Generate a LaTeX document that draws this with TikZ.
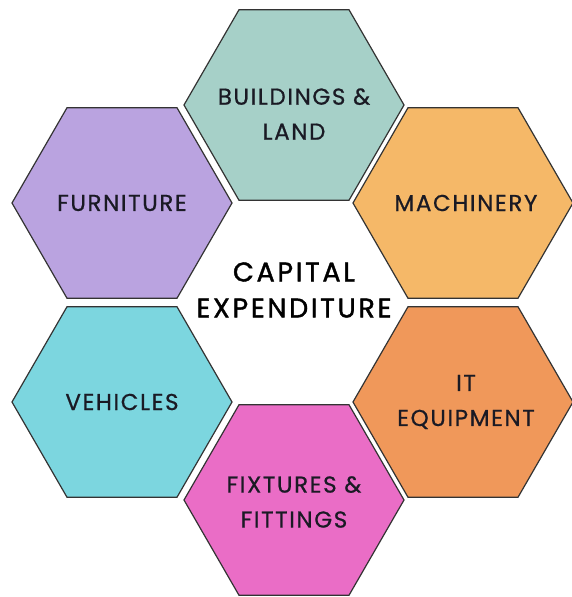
\documentclass[tikz,border=0pt]{standalone}
\usepackage{fontspec}
\setmainfont{Poppins}
\newfontfamily\lblfont[LetterSpace=7,FakeBold=0.7]{Poppins}
\newfontfamily\capfont[LetterSpace=10,FakeBold=1.5]{Poppins}
\usetikzlibrary{shapes.geometric}
\definecolor{cbld}{HTML}{A6D0C8}
\definecolor{cfur}{HTML}{BAA3E0}
\definecolor{cmach}{HTML}{F5B868}
\definecolor{cveh}{HTML}{7CD6DF}
\definecolor{cit}{HTML}{F0985A}
\definecolor{cfix}{HTML}{EA6DC6}
\definecolor{edge}{HTML}{333333}
\definecolor{txt}{HTML}{1A1A24}
\tikzset{
  hexbox/.style={regular polygon, regular polygon sides=6, minimum size=220pt,
    inner sep=0pt, outer sep=0pt, draw=edge, line width=1.2pt},
  lbl/.style={align=center, font=\lblfont\fontsize{23}{35}\selectfont, text=txt, inner sep=0pt},
  ctr/.style={align=center, font=\capfont\fontsize{27}{36}\selectfont, text=black, inner sep=0pt}
}
\begin{document}
\begin{tikzpicture}[x=1pt,y=1pt]
\useasboundingbox (0,0) rectangle (571,597);
\fill[white] (0,0) rectangle (571,597);
\node[hexbox, fill=cbld] (bld) at (294,492) {};
\node[hexbox, fill=cfur] (fur) at (122,394) {};
\node[hexbox, fill=cmach] (mach) at (463,394) {};
\node[hexbox, fill=cveh] (veh) at (122,195) {};
\node[hexbox, fill=cit] (it) at (463,195) {};
\node[hexbox, fill=cfix] (fix) at (294,97) {};
\node[lbl] (tbld) at ([yshift=-9pt]bld.center) {BUILDINGS \&\\LAND};
\node[lbl] (tfur) at (fur.center) {FURNITURE};
\node[lbl] (tmach) at ([xshift=3pt]mach.center) {MACHINERY};
\node[lbl] (tveh) at (veh.center) {VEHICLES};
\node[lbl] (tit) at ([xshift=3pt]it.center) {IT\\EQUIPMENT};
\node[lbl] (tfix) at ([yshift=-2pt]fix.center) {FIXTURES \&\\FITTINGS};
\node[ctr] (cap) at (294,307) {CAPITAL\\EXPENDITURE};
\end{tikzpicture}
\end{document}
